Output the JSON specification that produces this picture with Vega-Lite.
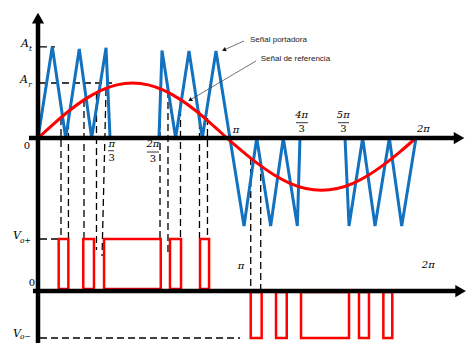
{
  "$schema": "https://vega.github.io/schema/vega-lite/v6.json",
  "width": 466,
  "height": 343,
  "autosize": {"type": "none"},
  "padding": 0,
  "background": "white",
  "config": {"view": {"stroke": null}},
  "datasets": {
    "carrier": [
      {"s": 1, "i": 1, "x": 0, "y": 0}, {"s": 1, "i": 2, "x": 13.6, "y": 1.66}, {"s": 1, "i": 3, "x": 26.4, "y": 0},
      {"s": 1, "i": 4, "x": 39.3, "y": 1.62}, {"s": 1, "i": 5, "x": 51.1, "y": 0}, {"s": 1, "i": 6, "x": 64.8, "y": 1.64},
      {"s": 1, "i": 7, "x": 68.6, "y": 0},
      {"s": 2, "i": 1, "x": 115.2, "y": 0}, {"s": 2, "i": 2, "x": 118.1, "y": 1.59}, {"s": 2, "i": 3, "x": 131.1, "y": 0},
      {"s": 2, "i": 4, "x": 143.8, "y": 1.58}, {"s": 2, "i": 5, "x": 156.5, "y": 0}, {"s": 2, "i": 6, "x": 169.5, "y": 1.58},
      {"s": 2, "i": 7, "x": 196.2, "y": -1.6}, {"s": 2, "i": 8, "x": 208.3, "y": 0}, {"s": 2, "i": 9, "x": 221.6, "y": -1.6},
      {"s": 2, "i": 10, "x": 233.6, "y": 0}, {"s": 2, "i": 11, "x": 247.0, "y": -1.6}, {"s": 2, "i": 12, "x": 249.5, "y": 0},
      {"s": 3, "i": 1, "x": 292.4, "y": 0}, {"s": 3, "i": 2, "x": 296.2, "y": -1.6}, {"s": 3, "i": 3, "x": 309.2, "y": 0},
      {"s": 3, "i": 4, "x": 321.0, "y": -1.6}, {"s": 3, "i": 5, "x": 334.6, "y": 0}, {"s": 3, "i": 6, "x": 346.4, "y": -1.6},
      {"s": 3, "i": 7, "x": 360, "y": 0}
    ],
    "reference": [
      {"x": 0, "y": 0}, {"x": 15, "y": 0.259}, {"x": 30, "y": 0.5}, {"x": 45, "y": 0.707}, {"x": 60, "y": 0.866},
      {"x": 75, "y": 0.966}, {"x": 90, "y": 1.0}, {"x": 105, "y": 0.966}, {"x": 120, "y": 0.866}, {"x": 135, "y": 0.707},
      {"x": 150, "y": 0.5}, {"x": 165, "y": 0.259}, {"x": 180, "y": 0}, {"x": 195, "y": -0.246}, {"x": 210, "y": -0.475},
      {"x": 225, "y": -0.672}, {"x": 240, "y": -0.823}, {"x": 255, "y": -0.918}, {"x": 270, "y": -0.95}, {"x": 285, "y": -0.918},
      {"x": 300, "y": -0.823}, {"x": 315, "y": -0.672}, {"x": 330, "y": -0.475}, {"x": 345, "y": -0.246}, {"x": 360, "y": 0}
    ],
    "pulses": [
      {"x": 19.7, "x2": 28.9, "y": -1.836, "y2": -2.745},
      {"x": 43.1, "x2": 53.3, "y": -1.836, "y2": -2.745},
      {"x": 62.9, "x2": 116.9, "y": -1.836, "y2": -2.745},
      {"x": 125.7, "x2": 136.2, "y": -1.836, "y2": -2.745},
      {"x": 154.3, "x2": 162.9, "y": -1.836, "y2": -2.745},
      {"x": 202.6, "x2": 213.0, "y": -2.8, "y2": -3.636},
      {"x": 226.7, "x2": 236.9, "y": -2.8, "y2": -3.636},
      {"x": 250.5, "x2": 296.2, "y": -2.8, "y2": -3.636},
      {"x": 305.7, "x2": 315.2, "y": -2.8, "y2": -3.636},
      {"x": 328.9, "x2": 337.4, "y": -2.8, "y2": -3.636}
    ],
    "dashes": [
      {"x": 1.9, "x2": 16.2, "y": 1.655, "y2": 1.655},
      {"x": 1.9, "x2": 70.5, "y": 1.0, "y2": 1.0},
      {"x": 1.9, "x2": 21.0, "y": -1.836, "y2": -1.836},
      {"x": 1.9, "x2": 192.4, "y": -3.636, "y2": -3.636},
      {"x": 21.9, "x2": 21.9, "y": 0.364, "y2": -1.818},
      {"x": 29.0, "x2": 29.0, "y": 0.491, "y2": -1.818},
      {"x": 43.8, "x2": 43.8, "y": 0.691, "y2": -1.818},
      {"x": 55.7, "x2": 55.7, "y": 0.818, "y2": -2.036},
      {"x": 64.8, "x2": 61.0, "y": 0.891, "y2": -2.145},
      {"x": 116.2, "x2": 116.2, "y": 0.909, "y2": -1.818},
      {"x": 123.8, "x2": 123.8, "y": 0.855, "y2": -2.073},
      {"x": 135.7, "x2": 135.7, "y": 0.727, "y2": -1.818},
      {"x": 153.8, "x2": 153.8, "y": 0.491, "y2": -1.818},
      {"x": 161.4, "x2": 161.4, "y": 0.364, "y2": -1.818},
      {"x": 202.6, "x2": 202.6, "y": -0.364, "y2": -2.782},
      {"x": 212.1, "x2": 212.1, "y": -0.455, "y2": -2.782}
    ],
    "axes": [
      {"x": 0, "x2": 0, "y": 2.15, "y2": -3.727},
      {"x": -8.6, "x2": 398, "y": 0, "y2": 0},
      {"x": -4.8, "x2": 400, "y": -2.782, "y2": -2.782}
    ],
    "fracbars": [
      {"x": 66.7, "x2": 72.4, "y": -0.231, "y2": -0.231},
      {"x": 103.8, "x2": 115.2, "y": -0.255, "y2": -0.255},
      {"x": 245.7, "x2": 257.1, "y": 0.278, "y2": 0.278},
      {"x": 285.7, "x2": 296.2, "y": 0.278, "y2": 0.278}
    ],
    "leaders": [
      {"x": 196.2, "x2": 177.1, "y": 1.764, "y2": 1.6},
      {"x": 207.6, "x2": 144.8, "y": 1.4, "y2": 0.691}
    ],
    "mathItalic": [
      {"x": 70.2, "y": -0.109, "t": "π"},
      {"x": 109.5, "y": -0.109, "t": "2π"},
      {"x": 188.6, "y": 0.145, "t": "π"},
      {"x": 251.1, "y": 0.418, "t": "4π"},
      {"x": 290.8, "y": 0.418, "t": "5π"},
      {"x": 367.0, "y": 0.158, "t": "2π"},
      {"x": 193.3, "y": -2.327, "t": "π"},
      {"x": 371.7, "y": -2.309, "t": "2π"}
    ],
    "mathRegular": [
      {"x": 70.2, "y": -0.355, "t": "3"},
      {"x": 109.5, "y": -0.382, "t": "3"},
      {"x": 251.1, "y": 0.155, "t": "3"},
      {"x": 290.8, "y": 0.155, "t": "3"},
      {"x": -10.5, "y": -0.145, "t": "0"},
      {"x": -5.7, "y": -2.636, "t": "0"}
    ],
    "bigLetters": [
      {"x": -12.4, "y": 1.709, "t": "A"},
      {"x": -13.3, "y": 1.055, "t": "A"},
      {"x": -20.0, "y": -1.782, "t": "V"},
      {"x": -20.0, "y": -3.56, "t": "V"}
    ],
    "subscripts": [
      {"x": -7.1, "y": 1.62, "t": "t"},
      {"x": -7.6, "y": 0.97, "t": "r"},
      {"x": -11.9, "y": -1.87, "t": "o+"},
      {"x": -11.9, "y": -3.615, "t": "o−"}
    ],
    "notes": [
      {"x": 201.9, "y": 1.782, "t": "Señal portadora"},
      {"x": 212.1, "y": 1.431, "t": "Señal de referencia"}
    ],
    "tipUp": [{"x": 0, "y": 2.18}],
    "tipRight": [{"x": 401, "y": 0}, {"x": 402.5, "y": -2.782}],
    "tipNote1": [{"x": 177.1, "y": 1.6}],
    "tipNote2": [{"x": 144.8, "y": 0.691}]
  },
  "encoding": {
    "x": {"field": "x", "type": "quantitative", "axis": null,
          "scale": {"domain": [-36.19, 407.62], "nice": false, "zero": false, "padding": 0}},
    "y": {"field": "y", "type": "quantitative", "axis": null,
          "scale": {"domain": [-3.727, 2.509], "nice": false, "zero": false, "padding": 0}}
  },
  "layer": [
    {
      "data": {"name": "dashes"},
      "mark": {"type": "rule", "color": "#000000", "strokeWidth": 1.3, "strokeDash": [7, 4]},
      "encoding": {"x2": {"field": "x2"}, "y2": {"field": "y2"}}
    },
    {
      "data": {"name": "carrier"},
      "mark": {"type": "line", "color": "#1272c0", "strokeWidth": 3, "strokeJoin": "miter"},
      "encoding": {"detail": {"field": "s", "type": "nominal"}, "order": {"field": "i", "type": "quantitative"}}
    },
    {
      "data": {"name": "reference"},
      "mark": {"type": "line", "color": "#ff0000", "strokeWidth": 3, "interpolate": "monotone"},
      "encoding": {}
    },
    {
      "data": {"name": "pulses"},
      "mark": {"type": "rect", "fillOpacity": 0, "stroke": "#ff0000", "strokeWidth": 2.5},
      "encoding": {"x2": {"field": "x2"}, "y2": {"field": "y2"}}
    },
    {
      "data": {"name": "axes"},
      "mark": {"type": "rule", "color": "#000000", "strokeWidth": 4.5},
      "encoding": {"x2": {"field": "x2"}, "y2": {"field": "y2"}}
    },
    {
      "data": {"name": "fracbars"},
      "mark": {"type": "rule", "color": "#000000", "strokeWidth": 0.8},
      "encoding": {"x2": {"field": "x2"}, "y2": {"field": "y2"}}
    },
    {
      "data": {"name": "leaders"},
      "mark": {"type": "rule", "color": "#333333", "strokeWidth": 0.7},
      "encoding": {"x2": {"field": "x2"}, "y2": {"field": "y2"}}
    },
    {
      "data": {"name": "tipUp"},
      "mark": {"type": "point", "shape": "triangle-up", "filled": true, "color": "#000000", "size": 150, "opacity": 1}
    },
    {
      "data": {"name": "tipRight"},
      "mark": {"type": "point", "shape": "triangle-right", "filled": true, "color": "#000000", "size": 150, "opacity": 1}
    },
    {
      "data": {"name": "tipNote1"},
      "mark": {"type": "point", "shape": "triangle-up", "filled": true, "color": "#111111", "size": 22, "angle": 245.6, "opacity": 1}
    },
    {
      "data": {"name": "tipNote2"},
      "mark": {"type": "point", "shape": "triangle-up", "filled": true, "color": "#111111", "size": 22, "angle": 239.2, "opacity": 1}
    },
    {
      "data": {"name": "mathItalic"},
      "mark": {"type": "text", "font": "DejaVu Serif", "fontStyle": "italic", "fontSize": 10, "align": "center", "baseline": "middle", "color": "#000000"},
      "encoding": {"text": {"field": "t"}}
    },
    {
      "data": {"name": "mathRegular"},
      "mark": {"type": "text", "font": "DejaVu Serif", "fontSize": 10, "align": "center", "baseline": "middle", "color": "#000000"},
      "encoding": {"text": {"field": "t"}}
    },
    {
      "data": {"name": "bigLetters"},
      "mark": {"type": "text", "font": "DejaVu Serif", "fontStyle": "italic", "fontSize": 11, "align": "center", "baseline": "middle", "color": "#000000"},
      "encoding": {"text": {"field": "t"}}
    },
    {
      "data": {"name": "subscripts"},
      "mark": {"type": "text", "font": "DejaVu Serif", "fontStyle": "italic", "fontSize": 7.5, "align": "center", "baseline": "middle", "color": "#000000"},
      "encoding": {"text": {"field": "t"}}
    },
    {
      "data": {"name": "notes"},
      "mark": {"type": "text", "font": "Liberation Sans", "fontSize": 8, "align": "left", "baseline": "middle", "color": "#222222"},
      "encoding": {"text": {"field": "t"}}
    }
  ]
}
